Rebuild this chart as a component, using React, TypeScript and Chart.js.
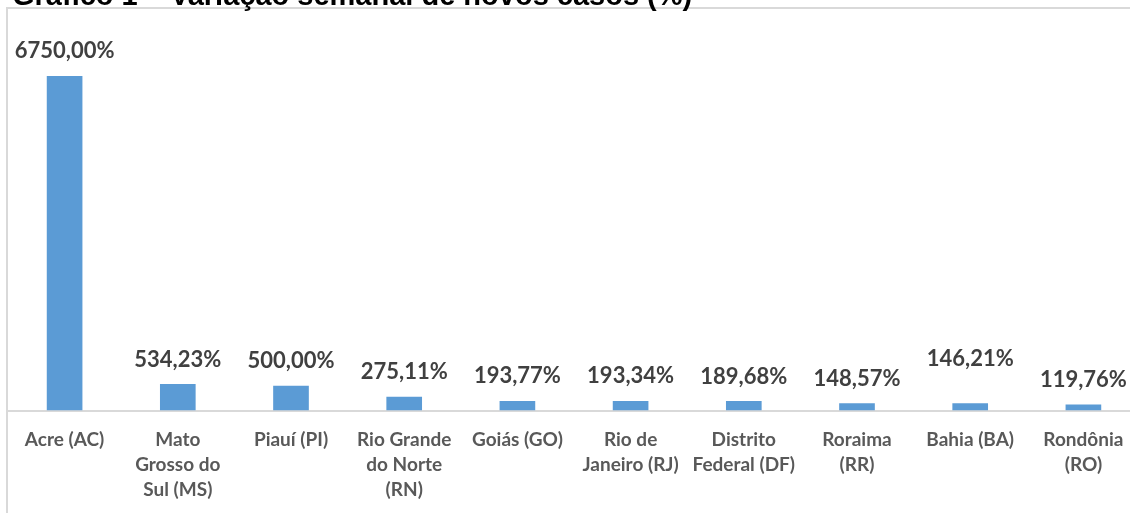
import React, { useEffect, useRef } from "react";
import { Chart, registerables } from "chart.js";

Chart.register(...registerables);

const titleText = "Gráfico 1 – Variação semanal de novos casos (%)";

const categories: string[][] = [
  ["Acre (AC)"],
  ["Mato", "Grosso do", "Sul (MS)"],
  ["Piauí (PI)"],
  ["Rio Grande", "do Norte", "(RN)"],
  ["Goiás (GO)"],
  ["Rio de", "Janeiro (RJ)"],
  ["Distrito", "Federal (DF)"],
  ["Roraima", "(RR)"],
  ["Bahia (BA)"],
  ["Rondônia", "(RO)"],
];

const values: number[] = [6750.0, 534.23, 500.0, 275.11, 193.77, 193.34, 189.68, 148.57, 146.21, 119.76];

const formatPct = (v: number) => v.toFixed(2).replace(".", ",") + "%";

const W = 1130;
const H = 513;
const CANVAS_W = 1160;
const CANVAS_H = 530;

const decorPlugin = {
  id: "decor",
  beforeDraw(chart: any) {
    const ctx = chart.ctx;
    ctx.save();
    ctx.fillStyle = "#ffffff";
    ctx.fillRect(0, 0, chart.width, chart.height);
    // chart border (light gray)
    ctx.strokeStyle = "#d9d9d9";
    ctx.lineWidth = 2;
    ctx.beginPath();
    ctx.moveTo(7, CANVAS_H + 5);
    ctx.lineTo(7, 8);
    ctx.lineTo(W + 5, 8);
    ctx.stroke();
    // cut-off title
    ctx.fillStyle = "#000000";
    ctx.font = "bold 29px 'Liberation Sans', Arial, sans-serif";
    ctx.textBaseline = "alphabetic";
    ctx.textAlign = "left";
    ctx.fillText(titleText, 12, 5);
    ctx.restore();
  },
};

const labelPlugin = {
  id: "barLabels",
  afterDatasetsDraw(chart: any, _args: any, opts: any) {
    const ctx = chart.ctx;
    const meta = chart.getDatasetMeta(0);
    const data = chart.data.datasets[0].data as number[];
    ctx.save();
    ctx.fillStyle = "#404040";
    ctx.font = "bold 22px Lato, 'Open Sans', sans-serif";
    ctx.textAlign = "center";
    ctx.textBaseline = "alphabetic";
    meta.data.forEach((bar: any, i: number) => {
      const lift = (opts.extraLift && opts.extraLift[i]) || 0;
      ctx.fillText(formatPct(data[i]), bar.x, bar.y - opts.gap - lift);
    });
    ctx.restore();
  },
};

export default function App() {
  const ref = useRef<HTMLCanvasElement | null>(null);

  useEffect(() => {
    if (!ref.current) return;
    const chart = new Chart(ref.current, {
      type: "bar",
      data: {
        labels: categories,
        datasets: [
          {
            data: values,
            backgroundColor: "#5b9bd5",
            borderWidth: 0,
            categoryPercentage: 1,
            barPercentage: 0.315,
          },
        ],
      },
      options: {
        animation: false,
        responsive: false,
        devicePixelRatio: 1,
        layout: { padding: { left: 8, right: 20, top: 14, bottom: 11.5 } },
        plugins: {
          legend: { display: false },
          tooltip: { enabled: false },
          title: { display: false },
          barLabels: { gap: 17.5, extraLift: { 8: 20 } },
        } as any,
        scales: {
          x: {
            grid: { display: false, drawTicks: false },
            border: { display: true, color: "#d9d9d9", width: 2 },
            ticks: {
              color: "#595959",
              font: { family: "Lato, 'Open Sans', sans-serif", weight: "bold", size: 19, lineHeight: 25 / 19 },
              padding: 16.5,
              maxRotation: 0,
              minRotation: 0,
              autoSkip: false,
            },
          },
          y: {
            display: false,
            min: 0,
            max: 8000,
          },
        },
      },
      plugins: [decorPlugin, labelPlugin],
    });
    return () => chart.destroy();
  }, []);

  return (
    <div style={{ position: "fixed", left: 0, top: 0, width: W, height: H, overflow: "hidden", background: "#fff" }}>
      <canvas ref={ref} width={CANVAS_W} height={CANVAS_H} style={{ width: CANVAS_W, height: CANVAS_H, display: "block" }} />
    </div>
  );
}
